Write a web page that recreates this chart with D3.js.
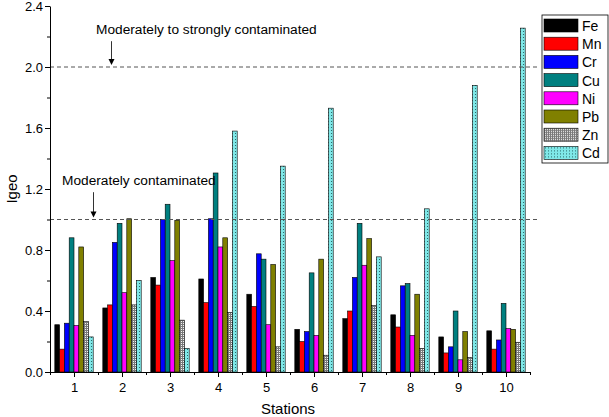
<!DOCTYPE html>
<meta charset="utf-8">
<title>Igeo by station</title>
<style>
body { margin: 0; background: #fff; }
text { font-family: Arial, "Liberation Sans", sans-serif; }
.axis path, .axis line { stroke: #000; }
</style>
<body>
<script src="https://cdnjs.cloudflare.com/ajax/libs/d3/7.8.5/d3.min.js"></script>
<script>

// data
var stations = [1, 2, 3, 4, 5, 6, 7, 8, 9, 10];
var metals = ["Fe", "Mn", "Cr", "Cu", "Ni", "Pb", "Zn", "Cd"];

var Fe = [0.31, 0.42, 0.62, 0.61, 0.51, 0.28, 0.35, 0.375, 0.23, 0.27];
var Mn = [0.15, 0.44, 0.57, 0.455, 0.43, 0.20, 0.40, 0.295, 0.125, 0.15];
var Cr = [0.32, 0.85, 1.00, 1.005, 0.775, 0.265, 0.62, 0.565, 0.165, 0.21];
var Cu = [0.88, 0.975, 1.10, 1.305, 0.74, 0.65, 0.975, 0.58, 0.40, 0.45];
var Ni = [0.305, 0.52, 0.73, 0.82, 0.31, 0.24, 0.70, 0.24, 0.08, 0.285];
var Pb = [0.82, 1.005, 0.995, 0.88, 0.705, 0.74, 0.875, 0.51, 0.265, 0.28];
var Zn = [0.33, 0.44, 0.34, 0.39, 0.165, 0.11, 0.435, 0.155, 0.095, 0.195];
var Cd = [0.23, 0.60, 0.155, 1.58, 1.35, 1.73, 0.755, 1.07, 1.88, 2.255];

var yTicks = [0.0, 0.4, 0.8, 1.2, 1.6, 2.0, 2.4];

// threshold lines with their notes (arrow x in station units)
var thresholds = [
  {value: 1.0, label: "Moderately contaminated", arrowAt: 1.4, textAt: 0.75, textY: 1.225},
  {value: 2.0, label: "Moderately to strongly contaminated", arrowAt: 1.77, textAt: 1.46, textY: 2.215}
];

var series = {Fe: Fe, Mn: Mn, Cr: Cr, Cu: Cu, Ni: Ni, Pb: Pb, Zn: Zn, Cd: Cd};
var fills = {
  Fe: "#000000", Mn: "#ff0000", Cr: "#0000ff", Cu: "#008080",
  Ni: "#ff00ff", Pb: "#808000", Zn: "url(#pZn)", Cd: "url(#pCd)"
};

var width = 609, height = 417;
var margin = {top: 6, right: 79, bottom: 45, left: 50};

var svg = d3.select("body").append("svg")
    .attr("width", width)
    .attr("height", height);

// patterns for Zn (gray grid) and Cd (cyan dots)
var defs = svg.append("defs");
var pz = defs.append("pattern").attr("id", "pZn")
    .attr("patternUnits", "userSpaceOnUse").attr("width", 2).attr("height", 2);
pz.append("rect").attr("width", 2).attr("height", 2).attr("fill", "#f4f4f4");
pz.append("rect").attr("width", 2).attr("height", 1).attr("fill", "#7a7a7a");
pz.append("rect").attr("width", 1).attr("height", 2).attr("fill", "#7a7a7a");

var pc = defs.append("pattern").attr("id", "pCd")
    .attr("patternUnits", "userSpaceOnUse").attr("width", 3).attr("height", 3);
pc.append("rect").attr("width", 3).attr("height", 3).attr("fill", "#7fe8e8");
pc.append("rect").attr("x", 1).attr("y", 1).attr("width", 1).attr("height", 1).attr("fill", "#2a6a6a");

var x = d3.scaleLinear()
    .domain([0.5, 10.5])
    .range([margin.left, width - margin.right]);

var y = d3.scaleLinear()
    .domain([0, 2.4])
    .range([height - margin.bottom, margin.top]);

var xb = d3.scaleBand()
    .domain(metals)
    .range([0, (x(1) - x(0.5)) * 2 * 0.8]);

// bars
metals.forEach(function(m) {
  svg.append("g").selectAll("rect")
      .data(series[m])
      .enter().append("rect")
      .attr("x", function(d, i) { return x(stations[i]) - xb.range()[1] / 2 + xb(m); })
      .attr("y", function(d) { return y(d); })
      .attr("width", xb.bandwidth())
      .attr("height", function(d) { return y(0) - y(d); })
      .attr("fill", fills[m])
      .attr("stroke", "#000")
      .attr("stroke-width", 0.6);
});

// threshold lines
thresholds.forEach(function(t) {
  svg.append("line")
      .attr("x1", x(0.5)).attr("x2", x(10.5) + 9)
      .attr("y1", y(t.value)).attr("y2", y(t.value))
      .attr("stroke", "#555").attr("stroke-width", 1)
      .attr("stroke-dasharray", "4,3");
  svg.append("text")
      .attr("x", x(t.textAt)).attr("y", y(t.textY))
      .attr("font-size", "13.7px")
      .text(t.label);
  var ax = Math.round(x(t.arrowAt)) + 0.5;
  var y0 = y(t.textY) + 7, y1 = y(t.value) - 2;
  svg.append("line")
      .attr("x1", ax).attr("x2", ax)
      .attr("y1", y0).attr("y2", y1 - 4)
      .attr("stroke", "#333").attr("stroke-width", 1);
  svg.append("path")
      .attr("d", "M" + (ax - 3) + "," + (y1 - 6) + "L" + ax + "," + y1 + "L" + (ax + 3) + "," + (y1 - 6) + "Z")
      .attr("fill", "#000");
});

// axes
var xAxis = svg.append("g").attr("class", "axis")
    .attr("transform", "translate(0," + y(0) + ")")
    .call(d3.axisBottom(x).tickValues(stations).tickFormat(d3.format("d")).tickSize(5).tickSizeOuter(0));
svg.append("g").attr("class", "axis")
    .attr("transform", "translate(0," + y(0) + ")")
    .call(d3.axisBottom(x).tickValues(d3.range(0.5, 11, 1)).tickFormat("").tickSize(3).tickSizeOuter(0))
    .select(".domain").remove();
xAxis.selectAll("text").attr("font-size", "13px").attr("font-family", "Arial, sans-serif").attr("dy", "0.95em");

var yAxis = svg.append("g").attr("class", "axis")
    .attr("transform", "translate(" + x(0.5) + ",0)")
    .call(d3.axisLeft(y).tickValues(yTicks).tickFormat(d3.format(".1f")).tickSize(5).tickSizeOuter(0));
svg.append("g").attr("class", "axis")
    .attr("transform", "translate(" + x(0.5) + ",0)")
    .call(d3.axisLeft(y).tickValues(d3.range(0.2, 2.4, 0.4)).tickFormat("").tickSize(3).tickSizeOuter(0))
    .select(".domain").remove();
yAxis.selectAll("text").attr("font-size", "13px").attr("font-family", "Arial, sans-serif").attr("x", -7);
svg.selectAll(".axis text").attr("fill", "#000");

// axis titles
svg.append("text")
    .attr("x", (x(0.5) + x(10.5)) / 2 - 2).attr("y", height - 3)
    .attr("text-anchor", "middle").attr("font-size", "15px")
    .text("Stations");
svg.append("text")
    .attr("transform", "translate(17," + y(1.2) + ")rotate(-90)")
    .attr("text-anchor", "middle").attr("font-size", "15px")
    .text("Igeo");

// legend
var lg = svg.append("g").attr("transform", "translate(542,15)");
lg.append("rect")
    .attr("width", 66).attr("height", 148)
    .attr("fill", "#fff").attr("stroke", "#000").attr("stroke-width", 0.8);
var item = lg.selectAll(".item")
    .data(metals)
    .enter().append("g")
    .attr("transform", function(d, i) { return "translate(2," + (4 + i * 18.2) + ")"; });
item.append("rect")
    .attr("width", 34).attr("height", 13)
    .attr("fill", function(d) { return fills[d]; })
    .attr("stroke", "#000").attr("stroke-width", 0.6);
item.append("text")
    .attr("x", 38).attr("y", 12)
    .attr("font-size", "14px")
    .text(function(d) { return d; });

</script>
</body>
